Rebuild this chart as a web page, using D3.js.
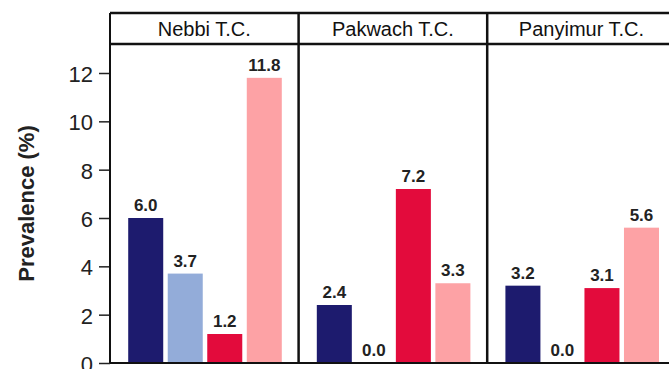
<!DOCTYPE html>
<html><head><meta charset="utf-8">
<script src="https://cdn.jsdelivr.net/npm/d3@7"></script>
<style>html,body{margin:0;padding:0;background:#fff;overflow:hidden}</style>
</head><body><svg id="c" width="669" height="369"></svg>
<script>
const panels = ["Nebbi T.C.", "Pakwach T.C.", "Panyimur T.C."];
const seriesNames = ["Series 1", "Series 2", "Series 3", "Series 4"];
const seriesColors = ["#1d1b6e", "#93acd9", "#e30b3c", "#fda2a5"];
const values = [
  [6.0, 3.7, 1.2, 11.8],
  [2.4, 0.0, 7.2, 3.3],
  [3.2, 0.0, 3.1, 5.6]
];
const yTicks = [0, 2, 4, 6, 8, 10, 12];
const yTitle = "Prevalence (%)";

const svg = d3.select("#c");
const left = 110, panelW = 188.6, stripTop = 13, stripBot = 44, base = 363;
const font = "Liberation Sans, Arial, sans-serif";

const y = d3.scaleLinear().domain([0, 13.2]).range([base, stripBot]);
const px = d3.scaleBand().domain(panels).range([left, left + panelW * panels.length]).padding(0);
const x = d3.scaleBand().domain(seriesNames).range([0, panelW]).paddingInner(0.114).paddingOuter(0.443).align(0.52);

// y axis
const ya = svg.append("g").attr("transform", `translate(${left},0)`)
  .call(d3.axisLeft(y).tickValues(yTicks).tickSize(11).tickPadding(6).tickFormat(d3.format("d")));
ya.select(".domain").remove();
ya.selectAll(".tick line").attr("stroke", "#222").attr("stroke-width", 1.5);
ya.selectAll(".tick text").attr("font-family", font).attr("font-size", 22).attr("fill", "#222").attr("dy", "0.38em");

svg.append("text").attr("transform", `translate(34,${(stripBot + base) / 2}) rotate(-90)`)
  .attr("text-anchor", "middle").attr("font-family", font).attr("font-size", 22).attr("font-weight", "bold")
  .attr("fill", "#222").text(yTitle);

panels.forEach((p, i) => {
  const g = svg.append("g").attr("transform", `translate(${px(p)},0)`);
  g.selectAll("rect.bar").data(values[i]).join("rect").attr("class", "bar")
    .attr("x", (d, j) => x(seriesNames[j])).attr("width", x.bandwidth())
    .attr("y", d => y(d)).attr("height", d => base - y(d))
    .attr("fill", (d, j) => seriesColors[j]);
  g.selectAll("text.val").data(values[i]).join("text").attr("class", "val")
    .attr("x", (d, j) => x(seriesNames[j]) + x.bandwidth() / 2)
    .attr("y", d => y(d) - 7)
    .attr("text-anchor", "middle").attr("font-family", font).attr("font-size", 17).attr("font-weight", "bold")
    .attr("fill", "#222").text(d => d.toFixed(1));
  // strip
  g.append("text").attr("x", panelW / 2).attr("y", (stripTop + stripBot) / 2 + 7)
    .attr("text-anchor", "middle").attr("font-family", font).attr("font-size", 20).attr("fill", "#111").text(p);
});

// frame lines
const lines = svg.append("g").attr("stroke", "#111").attr("fill", "none");
const right = left + panelW * panels.length;
lines.append("line").attr("x1", left).attr("x2", right).attr("y1", stripTop).attr("y2", stripTop).attr("stroke-width", 2.5);
lines.append("line").attr("x1", left).attr("x2", right).attr("y1", stripBot).attr("y2", stripBot).attr("stroke-width", 2.5);
lines.append("line").attr("x1", left).attr("x2", right).attr("y1", base).attr("y2", base).attr("stroke-width", 2);
panels.forEach((p, i) => {
  const xx = px(p);
  lines.append("line").attr("x1", xx).attr("x2", xx).attr("y1", stripTop).attr("y2", base).attr("stroke-width", i === 0 ? 2 : 2.5);
});
lines.append("line").attr("x1", right).attr("x2", right).attr("y1", stripTop).attr("y2", base).attr("stroke-width", 2.5);
</script></body></html>
